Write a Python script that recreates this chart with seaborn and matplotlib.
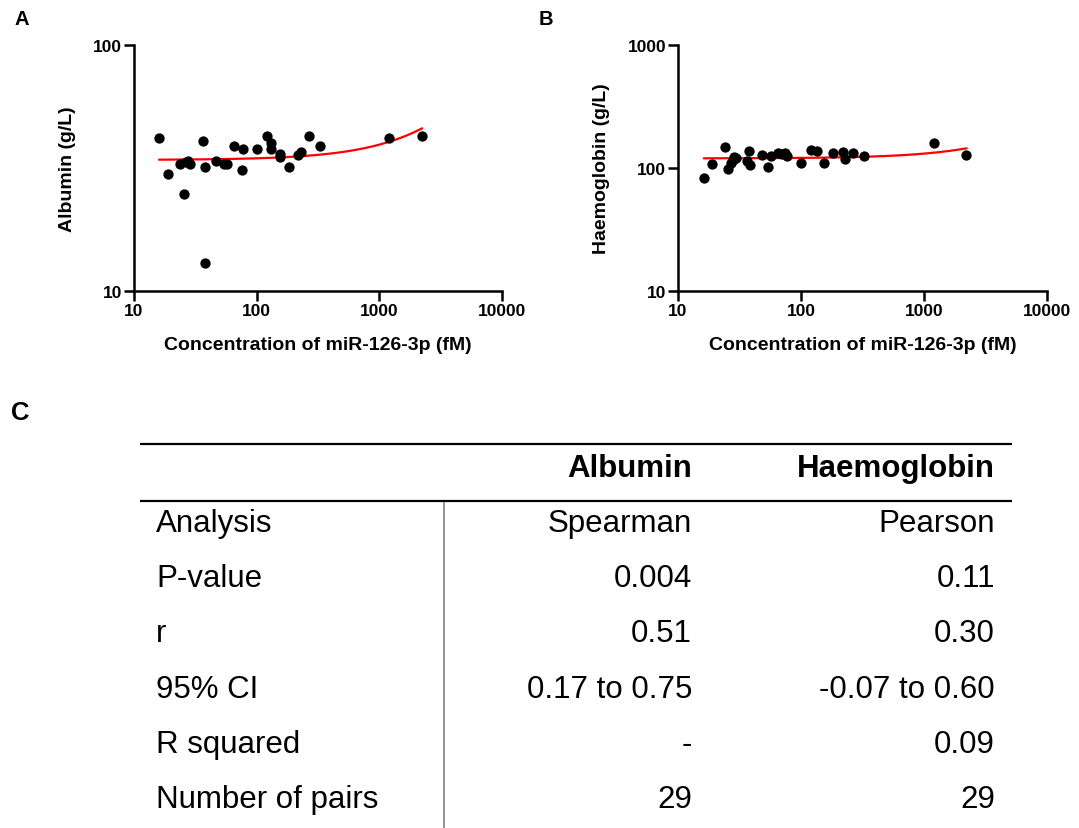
import numpy as np
import pandas as pd
import matplotlib
matplotlib.use("Agg")
import matplotlib.pyplot as plt
import seaborn as sns

# ---- Panel A: albumin vs miR-126-3p ----
albumin_conc = [16.0, 18.9, 23.8, 25.7, 26.5, 27.6, 28.7, 36.3, 37.9, 37.7,
                47.0, 54.5, 57.4, 65.3, 76.9, 76.3, 100.2, 120.9, 131.5, 132.0,
                153.6, 154.5, 182.9, 217.9, 228.0, 266.3, 327.6, 1203.0, 2212.0]
albumin_val = [41.7, 29.9, 32.8, 24.9, 33.3, 33.8, 32.8, 40.8, 31.9, 13.0,
               33.8, 32.8, 32.8, 38.8, 37.7, 30.9, 37.7, 42.7, 39.8, 37.7,
               35.9, 34.9, 31.9, 35.7, 36.7, 42.7, 38.8, 41.7, 42.7]
albumin_fit = (34.1, 0.00525)          # intercept, slope of linear fit
albumin_fit_range = (16.0, 2240.0)

# ---- Panel B: haemoglobin vs miR-126-3p ----
haem_conc = [16.2, 19.0, 24.3, 25.7, 26.8, 28.0, 28.4, 29.6, 37.6, 36.6,
             38.5, 48.0, 54.0, 57.5, 64.7, 70.0, 73.8, 77.1, 100.9, 120.9,
             133.7, 153.5, 182.5, 218.8, 226.0, 264.0, 326.6, 1205.0, 2187.0]
haem_val = [82.5, 107.8, 147.3, 98.2, 109.8, 116.0, 122.2, 121.0, 138.3, 114.6,
            105.8, 127.5, 102.5, 125.9, 131.7, 131.0, 131.7, 124.5, 109.2, 140.0,
            138.3, 109.2, 131.7, 135.8, 118.4, 131.7, 125.9, 159.7, 128.3]
haem_fit = (119.7, 0.01118)
haem_fit_range = (16.2, 2225.0)

# ---- Panel C: correlation summary ----
table_columns = ["Albumin", "Haemoglobin"]
table_rows = ["Analysis", "P-value", "r", "95% CI", "R squared", "Number of pairs"]
albumin_stats = ["Spearman", "0.004", "0.51", "0.17 to 0.75", "-", "29"]
haem_stats = ["Pearson", "0.11", "0.30", "-0.07 to 0.60", "0.09", "29"]

x_label = "Concentration of miR-126-3p (fM)"
x_ticks = [10, 100, 1000, 10000]

sns.set_style("ticks")
plt.rcParams["font.family"] = ["Liberation Sans", "DejaVu Sans"]
for key in ("text.color", "axes.labelcolor", "xtick.color", "ytick.color",
            "axes.edgecolor"):
    plt.rcParams[key] = "black"

W, H = 1079, 829
fig = plt.figure(figsize=(W / 100, H / 100), dpi=100)


def px_axes(left, top, right, bottom):
    return fig.add_axes([left / W, 1 - bottom / H, (right - left) / W, (bottom - top) / H])


def style_scatter(ax, y_ticks, ylabel, ypad):
    ax.set_xscale("log")
    ax.set_yscale("log")
    ax.set_xlim(10, 10000)
    ax.set_ylim(y_ticks[0], y_ticks[-1])
    ax.minorticks_off()
    ax.set_xticks(x_ticks)
    ax.set_xticklabels([str(t) for t in x_ticks], fontweight="bold", fontsize=12.5)
    ax.set_yticks(y_ticks)
    ax.set_yticklabels([str(t) for t in y_ticks], fontweight="bold", fontsize=12.5)
    ax.tick_params(direction="out", length=7, width=1.8, color="black", pad=1.5)
    sns.despine(ax=ax)
    for side in ("left", "bottom"):
        ax.spines[side].set_linewidth(1.8)
        ax.spines[side].set_color("black")
    ax.set_xlabel(x_label, fontweight="bold", fontsize=14, labelpad=13)
    ax.set_ylabel(ylabel, fontweight="bold", fontsize=14, labelpad=ypad)


def draw_panel(ax, conc, vals, fit, fit_range):
    xs = np.geomspace(fit_range[0], fit_range[1], 200)
    ys = fit[0] + fit[1] * xs
    sns.lineplot(x=xs, y=ys, ax=ax, color="#ff0000", linewidth=1.6, zorder=2)
    df = pd.DataFrame({"conc": conc, "val": vals})
    sns.scatterplot(data=df, x="conc", y="val", ax=ax, color="black", s=55,
                    linewidth=0, zorder=3, clip_on=False)


ax_a = px_axes(134, 46, 502, 292)
draw_panel(ax_a, albumin_conc, albumin_val, albumin_fit, albumin_fit_range)
style_scatter(ax_a, [10, 100], "Albumin (g/L)", 12.5)

ax_b = px_axes(678, 46, 1047, 292)
draw_panel(ax_b, haem_conc, haem_val, haem_fit, haem_fit_range)
style_scatter(ax_b, [10, 100, 1000], "Haemoglobin (g/L)", 13)

# Overlay in pixel coordinates for panel letters and the table
ov = fig.add_axes([0, 0, 1, 1], zorder=-1)
ov.set_xlim(0, W)
ov.set_ylim(H, 0)
ov.axis("off")

ov.text(22, 19, "A", fontsize=14.5, fontweight="bold", ha="center", va="center")
ov.text(546, 19, "B", fontsize=14.5, fontweight="bold", ha="center", va="center")
ov.text(20, 413, "C", fontsize=18.5, fontweight="bold", ha="center", va="center")

ov.hlines([445, 502], 140, 1012, color="black", linewidth=1.6)
ov.vlines(443.5, 503, 829, color="#808080", linewidth=1.2)

font_tbl = 22.5
col_right = [692, 995]
ov.text(col_right[0], 477, table_columns[0], fontsize=font_tbl, fontweight="bold",
        ha="right", va="baseline")
ov.text(col_right[1], 477, table_columns[1], fontsize=font_tbl, fontweight="bold",
        ha="right", va="baseline")

row_base = 532
row_step = 55.2
for i, label in enumerate(table_rows):
    yb = row_base + i * row_step
    ov.text(156, yb, label, fontsize=font_tbl, ha="left", va="baseline")
    ov.text(col_right[0], yb, albumin_stats[i], fontsize=font_tbl, ha="right", va="baseline")
    ov.text(col_right[1], yb, haem_stats[i], fontsize=font_tbl, ha="right", va="baseline")

fig.savefig("out.png", dpi=100, facecolor="white")
